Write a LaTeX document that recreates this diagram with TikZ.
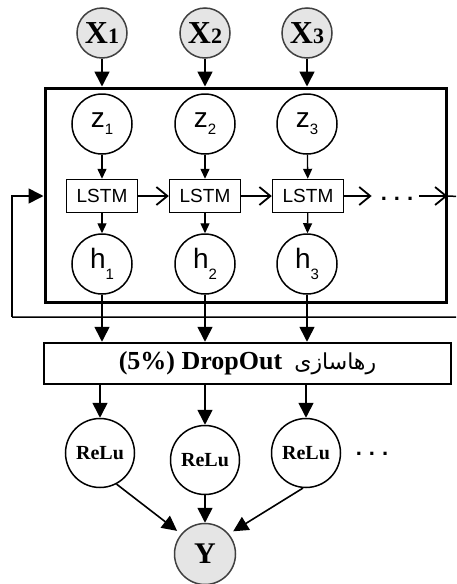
\documentclass[tikz,border=0pt]{standalone}
\usepackage{fontspec}
\setmainfont{Liberation Serif}
\setsansfont{Liberation Sans}
\newfontfamily\arabicfont[Script=Arabic]{DejaVu Sans}
\TeXXeTstate=1
\usetikzlibrary{arrows.meta,calc}
\begin{document}
\begin{tikzpicture}[x=1pt,y=-1pt,
  xin/.style={circle,draw=black!75,fill=black!10,line width=1.5pt,minimum size=50pt,inner sep=0pt,font=\fontsize{32}{32}\selectfont\bfseries},
  zh/.style={circle,draw,line width=1.5pt,minimum size=60pt,inner sep=0pt,font=\fontsize{28}{28}\selectfont\sffamily},
  lstmbox/.style={rectangle,draw,line width=1.4pt,minimum width=71pt,minimum height=33pt,inner sep=0pt,font=\fontsize{19}{19}\selectfont\sffamily},
  relu/.style={circle,draw,line width=1.5pt,minimum size=69pt,inner sep=0pt,font=\fontsize{20}{20}\selectfont\bfseries},
  dotsnode/.style={inner sep=0pt,font=\fontsize{22}{22}\selectfont\sffamily\bfseries},
  bigarr/.style={line width=1.6pt,-{Triangle[length=15pt,width=15pt]}},
  smallarr/.style={line width=1.3pt,-{Triangle[length=10pt,width=9pt]}},
  chev/.style={line width=1.4pt,-{Straight Barb[length=11pt,width=18pt,line width=1.8pt]}},
]
\useasboundingbox (0,0) rectangle (456,584);
\clip (0,0) rectangle (456,584);
\fill[white] (0,0) rectangle (456,584);

% inputs
\node[xin] (x1) at (102,33) {X\fontsize{22}{22}\selectfont 1};
\node[xin] (x2) at (205,33) {X\fontsize{22}{22}\selectfont 2};
\node[xin] (x3) at (307,33) {X\fontsize{22}{22}\selectfont 3};

% main box
\node[draw,line width=3pt,minimum width=401pt,minimum height=214pt,inner sep=0pt] (box) at (245.5,195) {};

% z nodes
\node[zh] (z1) at (102,124) {z\raisebox{-7pt}{\fontsize{15}{15}\selectfont 1}};
\node[zh] (z2) at (205,124) {z\raisebox{-7pt}{\fontsize{15}{15}\selectfont 2}};
\node[zh] (z3) at (307,124) {z\raisebox{-7pt}{\fontsize{15}{15}\selectfont 3}};

% LSTM
\node[lstmbox] (l1) at (102,196) {LSTM};
\node[lstmbox] (l2) at (205,196) {LSTM};
\node[lstmbox] (l3) at (308,196) {LSTM};
\node[dotsnode,anchor=base] (d1) at (397,200) {.\hspace{7pt}.\hspace{7pt}.};

% h nodes
\node[zh] (h1) at (102,264) {h\raisebox{-11pt}{\fontsize{15}{15}\selectfont 1}};
\node[zh] (h2) at (205,264) {h\raisebox{-11pt}{\fontsize{15}{15}\selectfont 2}};
\node[zh] (h3) at (307,264) {h\raisebox{-11pt}{\fontsize{15}{15}\selectfont 3}};

% dropout
\node[draw,line width=2.5pt,minimum width=407pt,minimum height=41pt,inner sep=0pt] (drop) at (247.5,363.5)
  {\fontsize{26}{26}\selectfont\bfseries (5\%) DropOut\hspace{12pt}{\arabicfont\mdseries\fontsize{22}{22}\selectfont\beginR رهاسازی\endR}};

% relu
\node[relu] (r1) at (100,453) {ReLu};
\node[relu] (r2) at (205,460) {ReLu};
\node[relu] (r3) at (306,453) {ReLu};
\node[dotsnode,anchor=base] (d2) at (372,455) {.\hspace{7pt}.\hspace{7pt}.};

% output
\node[xin,minimum size=61pt,font=\fontsize{30}{30}\selectfont\bfseries] (y) at (205,554) {Y};

% connectors
\foreach \i in {1,2,3}{
  \draw[bigarr] (x\i.south) -- (x\i.south |- box.north);
  \draw[smallarr] (z\i) -- (l\i);
  \draw[smallarr] (l\i) -- (h\i);
  \draw[bigarr] (h\i.south) -- (h\i.south |- drop.north);
  \draw[bigarr] (r\i.north |- drop.south) -- (r\i.north);
}
\draw[chev] (l1.east) -- (l1.east -| l2.west);
\draw[chev] (l2.east) -- (l2.east -| l3.west);
\draw[chev,shorten >=9pt] (l3.east) -- (l3.east -| d1.west);
\draw[chev,shorten <=6pt] (l3.east -| d1.east) -- (l3.east -| box.east);

% feedback
\coordinate (fbR) at (470,197);
\coordinate (fbB) at (470,317);
\coordinate (fbL) at (12,317);
\draw[line width=1.5pt] (l3.east -| box.east) -- (fbR) -- (fbB) -- (fbL);
\draw[bigarr] (fbL) |- (l1.west -| box.west);

% relu to output
\draw[bigarr,shorten >=5pt] (r1.-62) -- (y.140);
\draw[bigarr] (r2.south) -- (y.north);
\draw[bigarr,shorten >=5pt] (r3.-95) -- (y.40);
\end{tikzpicture}
\end{document}
